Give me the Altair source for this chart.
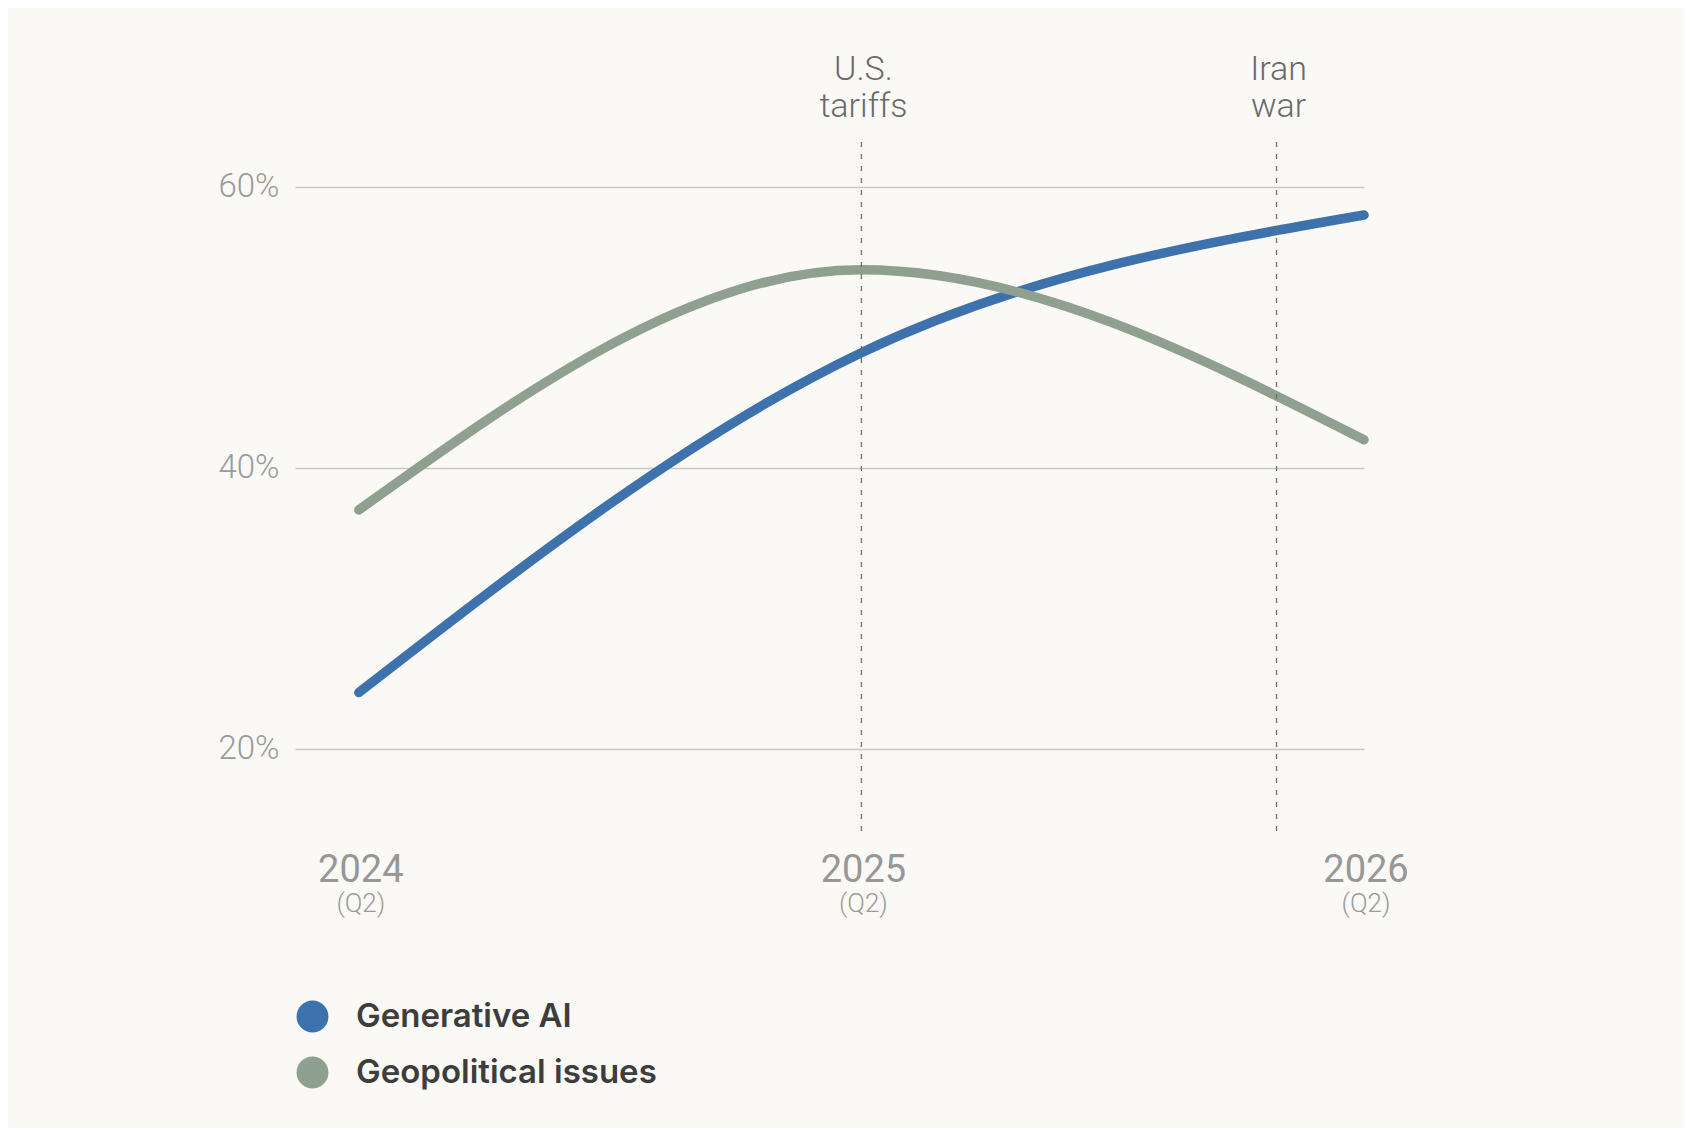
import altair as alt
import pandas as pd

# ---- data ----
years = [2024, 2025, 2026]
year_labels = ["2024", "2025", "2026"]
quarter_labels = ["(Q2)", "(Q2)", "(Q2)"]
series = ["Generative AI", "Geopolitical issues"]
gen_ai = [0.24, 0.482, 0.58]
geo = [0.37, 0.541, 0.42]
colors = ["#3e72ad", "#8fa091"]
event_x = [2025.0, 2025.826]
event_labels = ["U.S.\ntariffs", "Iran\nwar"]
y_ticks = [0.2, 0.4, 0.6]

W, H = 1069, 691

lines_df = pd.DataFrame(
    {
        "year": years * 2,
        "value": gen_ai + geo,
        "series": [series[0]] * 3 + [series[1]] * 3,
    }
)
events_df = pd.DataFrame({"x": event_x, "label": event_labels})
years_df = pd.DataFrame({"x": years, "label": year_labels, "q": quarter_labels})

xscale = alt.Scale(domain=[2023.873, 2026], nice=False, zero=False)
yscale = alt.Scale(domain=[0.140, 0.632], nice=False, zero=False)
cscale = alt.Scale(domain=series, range=colors)

legend = alt.Legend(
    orient="none",
    legendX=1,
    legendY=858,
    title=None,
    symbolType="circle",
    symbolSize=1018,
    symbolStrokeWidth=0,
    symbolOpacity=1,
    labelFont="Inter",
    labelFontWeight=600,
    labelFontSize=33,
    labelColor="#3d3d3d",
    labelOffset=27,
    labelLimit=0,
    rowPadding=22,
    padding=0,
)

circles = alt.Chart(lines_df).mark_circle(size=0, opacity=1).encode(
    x=alt.X("year:Q", scale=xscale, axis=None),
    y=alt.Y("value:Q", scale=yscale),
    color=alt.Color("series:N", scale=cscale, legend=legend),
)

lines = alt.Chart(lines_df).mark_line(
    interpolate="monotone", strokeWidth=9.5, strokeCap="round"
).encode(
    x=alt.X("year:Q", scale=xscale, axis=None),
    y=alt.Y(
        "value:Q",
        scale=yscale,
        axis=alt.Axis(
            values=y_ticks,
            format=".0%",
            grid=True,
            gridColor="#c9c8c3",
            gridWidth=1.5,
            domain=False,
            ticks=False,
            labelPadding=16,
            labelFont="Roboto",
            labelFontWeight=300,
            labelFontSize=33,
            labelColor="#9b9b9b",
            title=None,
        ),
    ),
    color=alt.Color("series:N", scale=cscale, legend=legend),
)

rules = alt.Chart(events_df).mark_rule(
    strokeDash=[5, 7], color="#6e6e6e", strokeWidth=1.3
).encode(
    x=alt.X("x:Q", scale=xscale, axis=None),
    y=alt.value(0),
    y2=alt.value(H),
)

event_text = alt.Chart(events_df).mark_text(
    font="Roboto",
    fontWeight=300,
    fontSize=34,
    color="#6a6a6a",
    align="center",
    baseline="alphabetic",
    lineBreak="\n",
    lineHeight=37,
    dy=-62,
    dx=2,
).encode(
    x=alt.X("x:Q", scale=xscale, axis=None),
    y=alt.value(0),
    text="label:N",
)

year_text = alt.Chart(years_df).mark_text(
    font="Roboto",
    fontWeight=400,
    fontSize=38,
    color="#979797",
    align="center",
    baseline="alphabetic",
    dy=49,
    dx=2,
).encode(
    x=alt.X("x:Q", scale=xscale, axis=None),
    y=alt.value(H),
    text="label:N",
)

q_text = alt.Chart(years_df).mark_text(
    font="Roboto",
    fontWeight=300,
    fontSize=26,
    color="#9b9b9b",
    align="center",
    baseline="alphabetic",
    dy=79,
    dx=2,
).encode(
    x=alt.X("x:Q", scale=xscale, axis=None),
    y=alt.value(H),
    text="q:N",
)

chart = (
    alt.layer(circles, lines, rules, event_text, year_text, q_text)
    .properties(
        width=W,
        height=H,
        autosize=alt.AutoSizeParams(type="none"),
        padding={"left": 287, "top": 134, "right": 320, "bottom": 295},
        background="#faf9f6",
    )
    .configure_view(stroke=None)
)

chart.save("out.html", embed_options={"renderer": "svg", "actions": False})
